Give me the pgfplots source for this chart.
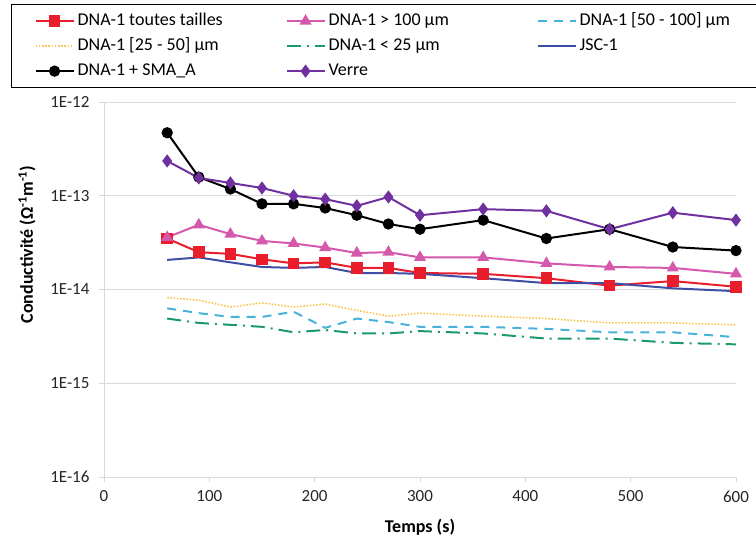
\documentclass[border=0pt]{standalone}
\usepackage{fontspec}
\setmainfont{Carlito}
\usepackage{pgfplots}
\pgfplotsset{compat=1.18}
\definecolor{cRed}{RGB}{232,30,45}
\definecolor{cPink}{RGB}{212,88,172}
\definecolor{cCyan}{RGB}{70,178,218}
\definecolor{cYel}{RGB}{250,196,80}
\definecolor{cGreen}{RGB}{25,155,105}
\definecolor{cBlue}{RGB}{62,78,165}
\definecolor{cPurp}{RGB}{112,48,160}
\definecolor{cGrid}{RGB}{217,217,217}
\newcommand{\LE}[2]{\hspace*{3bp}\makebox[#1][l]{#2}}
\begin{document}
\begin{tikzpicture}
\useasboundingbox (0,0) rectangle (756bp,537bp);
\begin{axis}[
  at={(104bp,60bp)}, anchor=south west,
  scale only axis, width=632bp, height=375bp,
  xmin=0, xmax=600, ymode=log, ymin=1e-16, ymax=1e-12,
  xtick={0,100,200,300,400,500,600},
  xticklabels={0,100,200,300,400,500,600},
  ytick={1e-16,1e-15,1e-14,1e-13,1e-12},
  yticklabels={1E-16,1E-15,1E-14,1E-13,1E-12},
  yminorticks=false,
  axis x line=bottom, axis y line=left,
  axis line style={draw=cGrid, line width=0.9bp, -},
  ymajorgrids, major grid style={draw=cGrid, line width=0.9bp},
  tick style={draw=cGrid, line width=0.9bp},
  tick align=outside, major tick length=5bp,
  ticklabel style={font=\fontsize{17bp}{20bp}\selectfont, text=black!85},
  xticklabel style={yshift=-5bp},
  yticklabel style={xshift=-6bp},
  xlabel={\textbf{Temps (s)}},
  ylabel={\textbf{Conductivité (Ω\textsuperscript{-1}m\textsuperscript{-1})}},
  every axis x label/.style={at={(axis description cs:0.5,-0.1333)}, anchor=center, font=\fontsize{18bp}{21bp}\selectfont},
  every axis y label/.style={at={(axis description cs:-0.122,0.62)}, rotate=90, anchor=center, font=\fontsize{18bp}{21bp}\selectfont},
  legend columns=3,
  legend image code/.code={\draw[mark repeat=2,mark phase=2,#1] plot coordinates {(0bp,0bp)(19bp,0bp)(38bp,0bp)};},
  legend style={at={(axis description cs:-0.1472,1.2613)}, anchor=north west,
    draw=black, line width=1.2bp, inner xsep=23bp, inner ysep=4bp,
    font=\fontsize{18bp}{21bp}\selectfont,
    cells={anchor=west},
    nodes={inner sep=0pt, text height=17bp, text depth=8bp}},
  every axis plot/.append style={line width=2bp},
]
\addplot[cRed, mark=square*, mark size=4.8bp, mark options={solid}] coordinates {
(60,3.5e-14)(90,2.5e-14)(120,2.4e-14)(150,2.1e-14)(180,1.9e-14)(210,1.95e-14)(240,1.7e-14)(270,1.7e-14)(300,1.5e-14)(360,1.47e-14)(420,1.32e-14)(480,1.1e-14)(540,1.23e-14)(600,1.07e-14)};
\addlegendentry{\LE{208bp}{DNA-1 toutes tailles}}
\addplot[cPink, mark=triangle*, mark size=5bp, mark options={solid}] coordinates {
(60,3.6e-14)(90,4.9e-14)(120,3.9e-14)(150,3.3e-14)(180,3.1e-14)(210,2.8e-14)(240,2.45e-14)(270,2.5e-14)(300,2.2e-14)(360,2.2e-14)(420,1.9e-14)(480,1.74e-14)(540,1.7e-14)(600,1.47e-14)};
\addlegendentry{\LE{208bp}{DNA-1 > 100 µm}}
\addplot[cCyan, dash pattern=on 9bp off 7bp] coordinates {
(60,6.3e-15)(90,5.6e-15)(120,5.1e-15)(150,5.1e-15)(180,5.8e-15)(210,3.9e-15)(240,4.9e-15)(270,4.5e-15)(300,4.0e-15)(360,4.0e-15)(420,3.8e-15)(480,3.5e-15)(540,3.5e-15)(600,3.1e-15)};
\addlegendentry{\LE{154bp}{DNA-1 [50 - 100] µm}}
\addplot[cYel, line width=1.6bp, dash pattern=on 1.6bp off 1.6bp] coordinates {
(60,8.2e-15)(90,7.7e-15)(120,6.5e-15)(150,7.2e-15)(180,6.5e-15)(210,7.0e-15)(240,6.0e-15)(270,5.2e-15)(300,5.6e-15)(360,5.2e-15)(420,4.9e-15)(480,4.4e-15)(540,4.4e-15)(600,4.2e-15)};
\addlegendentry{\LE{208bp}{DNA-1 [25 - 50] µm}}
\addplot[cGreen, dash pattern=on 14bp off 6bp on 2bp off 6bp] coordinates {
(60,4.9e-15)(90,4.4e-15)(120,4.2e-15)(150,4.0e-15)(180,3.5e-15)(210,3.7e-15)(240,3.4e-15)(270,3.4e-15)(300,3.6e-15)(360,3.4e-15)(420,3.0e-15)(480,3.0e-15)(540,2.7e-15)(600,2.6e-15)};
\addlegendentry{\LE{208bp}{DNA-1 < 25 µm}}
\addplot[cBlue] coordinates {
(60,2.07e-14)(90,2.2e-14)(120,1.95e-14)(150,1.74e-14)(180,1.7e-14)(210,1.74e-14)(240,1.5e-14)(270,1.5e-14)(300,1.47e-14)(360,1.32e-14)(420,1.17e-14)(480,1.17e-14)(540,1.03e-14)(600,9.6e-15)};
\addlegendentry{\LE{154bp}{JSC-1}}
\addplot[black, mark=*, mark size=4.6bp, mark options={solid}] coordinates {
(60,4.7e-13)(90,1.58e-13)(120,1.18e-13)(150,8.2e-14)(180,8.2e-14)(210,7.4e-14)(240,6.2e-14)(270,5.0e-14)(300,4.4e-14)(360,5.5e-14)(420,3.5e-14)(480,4.4e-14)(540,2.84e-14)(600,2.6e-14)};
\addlegendentry{\LE{208bp}{DNA-1 + SMA\_A}}
\addplot[cPurp, mark=diamond*, mark size=5bp, mark options={solid}] coordinates {
(60,2.35e-13)(90,1.55e-13)(120,1.37e-13)(150,1.21e-13)(180,1.0e-13)(210,9.2e-14)(240,7.8e-14)(270,9.7e-14)(300,6.2e-14)(360,7.2e-14)(420,6.9e-14)(480,4.4e-14)(540,6.6e-14)(600,5.5e-14)};
\addlegendentry{\LE{208bp}{Verre}}
\end{axis}
\end{tikzpicture}
\end{document}
